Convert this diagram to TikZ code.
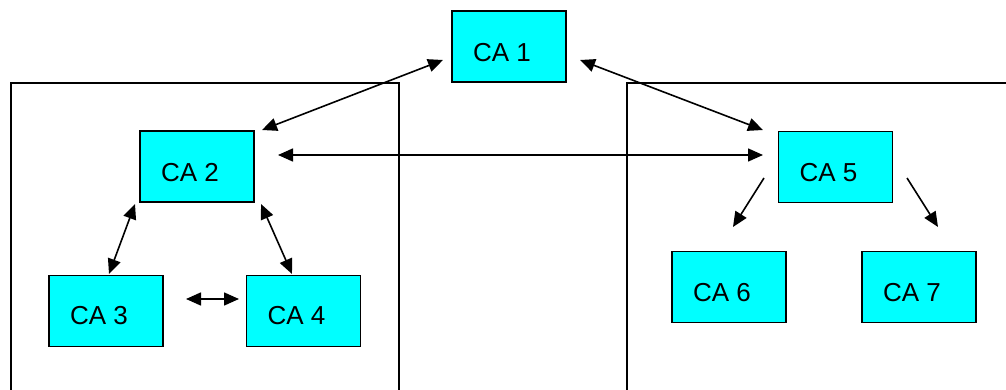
\documentclass[tikz,border=0pt]{standalone}
\usepackage{fontspec}
\setmainfont{Liberation Sans}
\usetikzlibrary{arrows.meta}
\definecolor{cabox}{HTML}{00FFFF}
\tikzset{
  cabox/.style={draw=black, line width=1.8pt, fill=cabox, minimum width=114pt, minimum height=71pt, inner sep=0pt},
  calbl/.style={font=\fontsize{26}{30}\selectfont, inner sep=0pt},
  conn/.style={line width=1.6pt, {Triangle[length=15pt,width=13pt]}-{Triangle[length=15pt,width=13pt]}},
  oneway/.style={line width=1.6pt, -{Triangle[length=15pt,width=13pt]}},
  frame/.style={line width=1.7pt}
}
\begin{document}
\begin{tikzpicture}[x=1pt,y=-1pt]
\useasboundingbox (0,0) rectangle (1006,390);
% domain frames
\draw[frame] (11,395) -- (11,83) -- (399,83) -- (399,395);
\draw[frame] (627,395) -- (627,83) -- (1010,83);
% boxes
\node[cabox, label={[calbl,xshift=-7pt,yshift=-6pt]center:CA 1}] (ca1) at (509,46.5) {};
\node[cabox, label={[calbl,xshift=-7pt,yshift=-6pt]center:CA 2}] (ca2) at (197,166.5) {};
\node[cabox, label={[calbl,xshift=-7pt,yshift=-5pt]center:CA 3}] (ca3) at (106,311) {};
\node[cabox, label={[calbl,xshift=-7pt,yshift=-5pt]center:CA 4}] (ca4) at (303.5,311) {};
\node[cabox, label={[calbl,xshift=-7pt,yshift=-6pt]center:CA 5}] (ca5) at (835.5,167) {};
\node[cabox, label={[calbl,xshift=-7pt,yshift=-6pt]center:CA 6}] (ca6) at (729,287) {};
\node[cabox, label={[calbl,xshift=-7pt,yshift=-6pt]center:CA 7}] (ca7) at (919,287) {};
% connector end points
\coordinate (a1l) at (443,60);
\coordinate (a2t) at (262,130);
\coordinate (a1r) at (580,60);
\coordinate (a5l) at (763,130);
\coordinate (a2r) at (278,155);
\coordinate (a5m) at (763,155);
\coordinate (a2bl) at (135,204);
\coordinate (a3t) at (109,274);
\coordinate (a2br) at (261,204);
\coordinate (a4t) at (292,274);
\coordinate (a3r) at (186,299);
\coordinate (a4l) at (239,299);
\coordinate (a5bl) at (764,178);
\coordinate (a6t) at (733,227);
\coordinate (a5br) at (907,178);
\coordinate (a7t) at (938,227);
% connectors
\draw[conn] (a1l) -- (a2t);
\draw[conn] (a1r) -- (a5l);
\draw[conn] (a2r) -- (a5m);
\draw[conn] (a2bl) -- (a3t);
\draw[conn] (a2br) -- (a4t);
\draw[conn] (a3r) -- (a4l);
\draw[oneway] (a5bl) -- (a6t);
\draw[oneway] (a5br) -- (a7t);
\end{tikzpicture}
\end{document}
